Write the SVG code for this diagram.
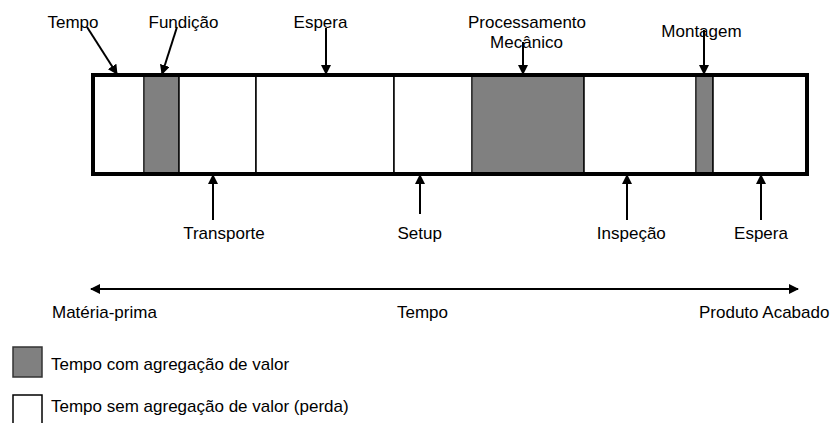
<svg xmlns="http://www.w3.org/2000/svg" width="830" height="423" viewBox="0 0 830 423">
<style>
text{font-family:"Liberation Sans",Arial,sans-serif;font-size:17px;fill:#000}
.m{text-anchor:middle}
.seg{fill:#fff;stroke:#000;stroke-width:1.5}
.va{fill:#808080;stroke:#333;stroke-width:1.5}
.ar{stroke:#000;stroke-width:2;fill:none}
</style>
<defs>
<marker id="ah" viewBox="0 0 10 10" refX="9" refY="5" markerWidth="10" markerHeight="10" markerUnits="userSpaceOnUse" orient="auto-start-reverse">
<path d="M0,0 L10,5 L0,10 z" fill="#000"/>
</marker>
</defs>
<rect width="830" height="423" fill="#fff"/>
<g id="bar">
<rect class="seg" x="93" y="75" width="51" height="99"/>
<rect id="fundicao" class="va" x="144" y="76" width="35" height="97"/>
<rect class="seg" x="179" y="75" width="77" height="99"/>
<rect class="seg" x="256" y="75" width="138" height="99"/>
<rect class="seg" x="394" y="75" width="78" height="99"/>
<rect id="processamento" class="va" x="472" y="76" width="112" height="97"/>
<rect class="seg" x="584" y="75" width="112" height="99"/>
<rect id="montagem" class="va" x="696" y="76" width="17" height="97"/>
<rect class="seg" x="713" y="75" width="94" height="99"/>
<rect x="93" y="75" width="714" height="99" fill="none" stroke="#000" stroke-width="4"/>
</g>
<g id="connectors">
<line class="ar" x1="87" y1="27" x2="117" y2="74" marker-end="url(#ah)"/>
<line class="ar" x1="177" y1="27" x2="162" y2="74" marker-end="url(#ah)"/>
<line class="ar" x1="326" y1="28" x2="326" y2="74" marker-end="url(#ah)"/>
<line class="ar" x1="523" y1="42" x2="523" y2="74" marker-end="url(#ah)"/>
<line class="ar" x1="704" y1="30" x2="704" y2="74" marker-end="url(#ah)"/>
<line class="ar" x1="213" y1="220" x2="213" y2="175" marker-end="url(#ah)"/>
<line class="ar" x1="420" y1="214" x2="420" y2="175" marker-end="url(#ah)"/>
<line class="ar" x1="627" y1="220" x2="627" y2="175" marker-end="url(#ah)"/>
<line class="ar" x1="761" y1="220" x2="761" y2="175" marker-end="url(#ah)"/>
<line class="ar" x1="91" y1="289" x2="798" y2="289" marker-start="url(#ah)" marker-end="url(#ah)"/>
</g>
<g id="labels-top">
<text class="m" x="73" y="28">Tempo</text>
<text class="m" x="183.5" y="28">Fundição</text>
<text class="m" x="320.5" y="28">Espera</text>
<text class="m" x="527" y="28">Processamento</text>
<text class="m" x="526.5" y="48">Mecânico</text>
<text class="m" x="701.5" y="37">Montagem</text>
</g>
<g id="labels-bottom">
<text class="m" x="224" y="239">Transporte</text>
<text class="m" x="419.7" y="239">Setup</text>
<text class="m" x="631.3" y="239">Inspeção</text>
<text class="m" x="761" y="239">Espera</text>
</g>
<g id="timeline">
<text x="52" y="318">Matéria-prima</text>
<text class="m" x="422.5" y="318">Tempo</text>
<text x="699" y="318">Produto Acabado</text>
</g>
<g id="legend-va">
<rect class="va" x="13" y="347" width="29" height="30"/>
<text x="51" y="370">Tempo com agregação de valor</text>
</g>
<g id="legend-nva">
<rect class="seg" x="13" y="395" width="29" height="31"/>
<text x="51" y="412">Tempo sem agregação de valor (perda)</text>
</g>
</svg>
